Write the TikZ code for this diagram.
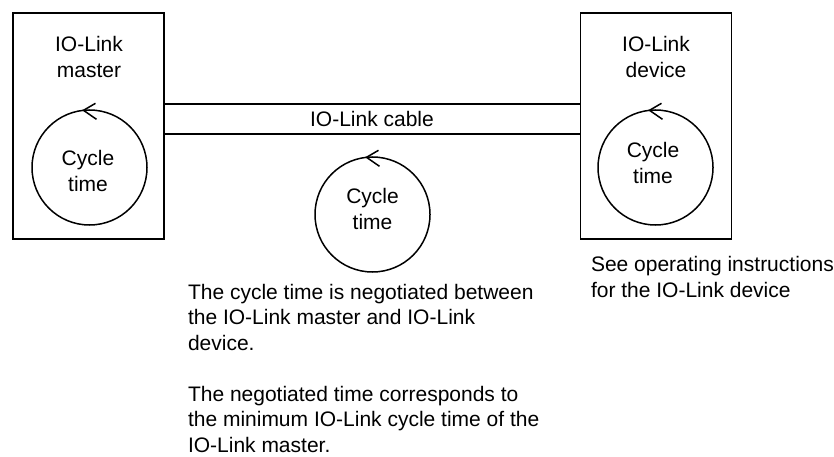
\documentclass[tikz,border=0pt]{standalone}
\usepackage{fontspec}
\setmainfont{Liberation Sans}
\usetikzlibrary{calc}
\begin{document}
\begin{tikzpicture}[x=1pt,y=-1pt,
  every node/.style={font=\fontsize{21}{25.5}\selectfont, inner sep=0pt, outer sep=0pt},
  unitbox/.style={draw=black, line width=1.8pt, rectangle, minimum width=151pt, minimum height=226pt},
  cyc/.style={draw=black, line width=1.5pt, circle, minimum size=115pt},
  cablelin/.style={draw=black, line width=1.8pt},
  barb/.style={draw=black, line width=1.5pt, line join=miter},
  lbl/.style={align=center, anchor=base},
  para/.style={align=left, anchor=base west}
]
\useasboundingbox (0,0) rectangle (834,457);

% boxes
\node[unitbox] (master) at (88.5,126) {};
\node[unitbox] (device) at (656,126) {};

% box titles (anchor = baseline of last line)
\node[lbl] (mtitle) at (89,77.5) {IO-Link\\master};
\node[lbl] (dtitle) at (656,77.5) {IO-Link\\device};

% cable
\coordinate (cabletop) at (372,104);
\coordinate (cablebot) at (372,134);
\draw[cablelin] (master.east |- cabletop) -- (device.west |- cabletop);
\draw[cablelin] (master.east |- cablebot) -- (device.west |- cablebot);
\node[lbl] (cable) at (372,127) {IO-Link cable};

% cycle circles
\node[cyc] (c1) at (89.5,167.5) {};
\node[cyc] (c2) at (372.5,214.5) {};
\node[cyc] (c3) at (655.5,167.5) {};

% arrowheads (open barbs pointing left at top of each circle)
\foreach \c in {c1,c2,c3}{
  \draw[barb] ([shift={(12,-7)}]\c.96) -- (\c.96) -- ([shift={(13,9)}]\c.96);
}

% circle texts
\node[lbl] (t1) at (88,191) {Cycle\\time};
\node[lbl] (t2) at (372.5,229) {Cycle\\time};
\node[lbl] (t3) at (653,183) {Cycle\\time};

% notes
\node[para] (note) at (188,452) {The cycle time is negotiated between\\the IO-Link master and IO-Link\\device.\\[25.5pt]The negotiated time corresponds to\\the minimum IO-Link cycle time of the\\IO-Link master.};
\node[para] (see) at (591,297) {See operating instructions\\for the IO-Link device};
\end{tikzpicture}
\end{document}
